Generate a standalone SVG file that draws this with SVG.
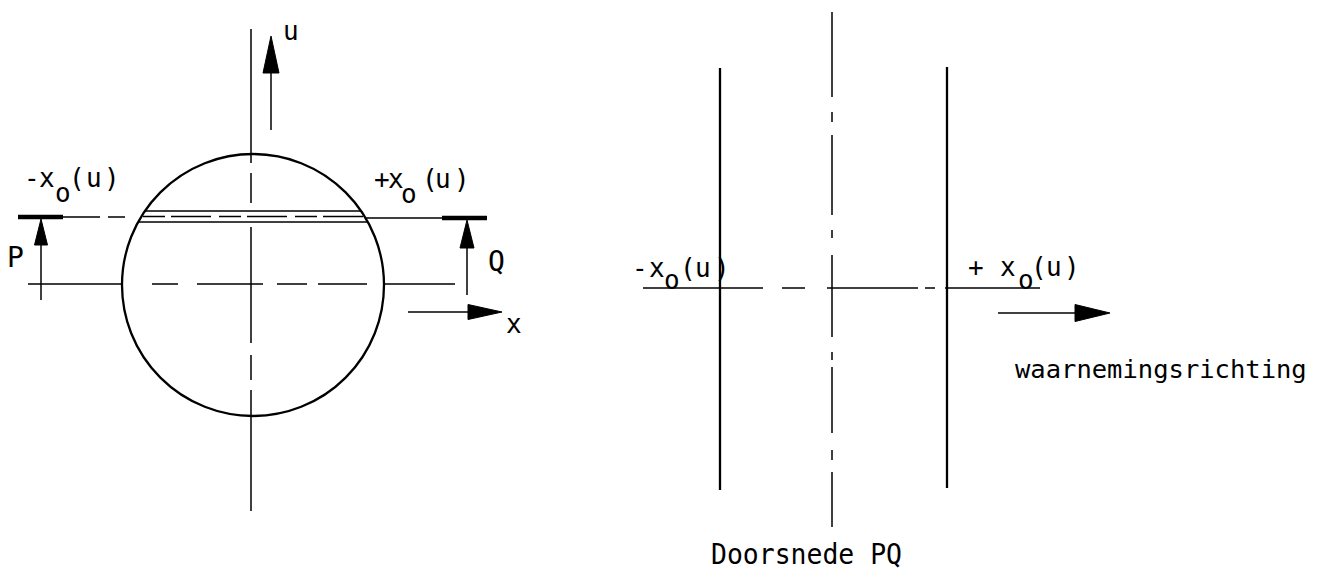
<svg xmlns="http://www.w3.org/2000/svg" width="1324" height="569" viewBox="0 0 1324 569">
<style>
.bg{fill:#fff}
.thin{stroke:#000;stroke-width:1.5;fill:none}
.med{stroke:#000;stroke-width:2.3;fill:none}
.thick{stroke:#000;stroke-width:4.5;fill:none}
.ah{fill:#000;stroke:#000;stroke-width:1;stroke-linejoin:round}
text{font-family:"DejaVu Sans Mono","Liberation Mono",monospace;fill:#000}
.t24{font-size:26px}
.t26{font-size:28px}
</style>
<rect class="bg" x="0" y="0" width="1324" height="569"/>

<g id="left-view">
  <circle class="med" cx="253" cy="285" r="131"/>
  <!-- vertical axis (chain line) -->
  <path class="thin" d="M251 29V163M251 173V203M251 227V343M251 355V380M251 390V511"/>
  <!-- horizontal centre line -->
  <path class="thin" d="M28 284H123M152 284H178M197 284H263M277 284H307M318 284H367M384 284H455"/>
  <!-- PQ section strip -->
  <path class="thin" d="M145 211H361M138 222H368"/>
  <path class="thin" d="M143 216.5H364" stroke-dasharray="22 6 40 8"/>
  <path class="thin" d="M63 217H100M108 217H125M365 218H442"/>
  <path class="thick" d="M18 217H63M442 218H487"/>
  <!-- u arrow -->
  <path class="thin" d="M271 130V73"/>
  <path class="ah" d="M271 36L279 73H263Z"/>
  <!-- P arrow -->
  <path class="thin" d="M41 300V245"/>
  <path class="ah" d="M41 219L47.5 245H34.5Z"/>
  <!-- Q arrow -->
  <path class="thin" d="M467 295V248"/>
  <path class="ah" d="M467 220L474 248H460Z"/>
  <!-- x arrow -->
  <path class="thin" d="M408 312H468"/>
  <path class="ah" d="M502 312L468 319.5V304.5Z"/>
  <text class="t24" x="283" y="40">u</text>
  <text class="t24" x="506" y="333">x</text>
  <text class="t26" x="7" y="267">P</text>
  <text class="t26" x="488" y="271">Q</text>
  <text class="t24"><tspan x="24 39" y="187">-x</tspan><tspan x="55" y="202">o</tspan><tspan x="69 86 104" y="187">(u)</tspan></text>
  <text class="t24"><tspan x="374 388" y="188">+x</tspan><tspan x="401" y="203">o</tspan><tspan x="422 435 454" y="188">(u)</tspan></text>
</g>

<g id="section-view">
  <path class="med" d="M720 68V490M947 67V488"/>
  <path class="thin" d="M832 12V97M832 112V122M832 135V215M832 230V238M832 255V337M832 352V360M832 367V433M832 450V460M832 472V527"/>
  <path class="thin" d="M643 288H763M782 288H805M827 288H918M925 288H935M945 288H1040"/>
  <path class="thin" d="M998 313H1075"/>
  <path class="ah" d="M1110 313L1075 321.5V304.5Z"/>
  <text class="t24"><tspan x="632 649" y="277">-x</tspan><tspan x="664" y="289">o</tspan><tspan x="680 695 714" y="277">(u)</tspan></text>
  <text class="t24"><tspan x="968 1000" y="276">+x</tspan><tspan x="1018" y="289">o</tspan><tspan x="1031 1046 1064" y="276">(u)</tspan></text>
  <text x="1015" y="378" style="font-size:25.5px">waarnemingsrichting</text>
  <text class="t26" x="711" y="564" textLength="191" lengthAdjust="spacingAndGlyphs">Doorsnede PQ</text>
</g>
</svg>
